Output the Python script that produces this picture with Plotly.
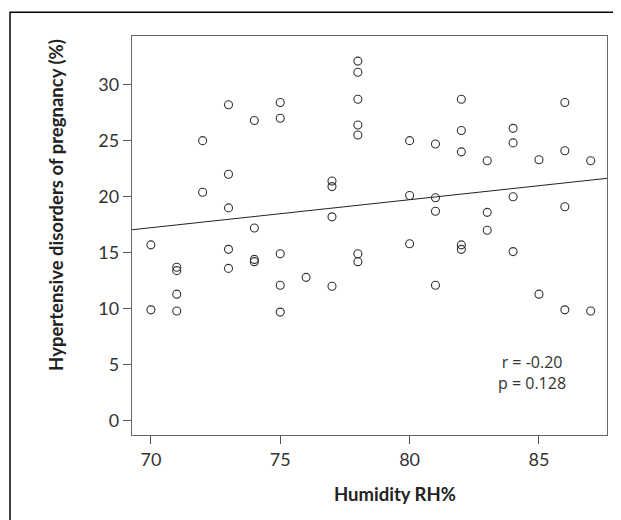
import plotly.graph_objects as go

# humidity (RH%) and hypertensive disorders of pregnancy (%)
humidity = [
    70, 70,
    71, 71, 71, 71,
    72, 72,
    73, 73, 73, 73, 73,
    74, 74, 74, 74,
    75, 75, 75, 75, 75,
    76,
    77, 77, 77, 77,
    78, 78, 78, 78, 78, 78, 78,
    80, 80, 80,
    81, 81, 81, 81,
    82, 82, 82, 82, 82,
    83, 83, 83,
    84, 84, 84, 84,
    85, 85,
    86, 86, 86, 86,
    87, 87,
]
hdp_rate = [
    15.7, 9.9,
    13.7, 13.4, 11.3, 9.8,
    25.0, 20.4,
    28.2, 22.0, 19.0, 15.3, 13.6,
    26.8, 17.2, 14.4, 14.2,
    28.4, 27.0, 14.9, 12.1, 9.7,
    12.8,
    21.4, 20.9, 18.2, 12.0,
    32.1, 31.1, 28.7, 26.4, 25.5, 14.9, 14.2,
    25.0, 20.1, 15.8,
    24.7, 19.9, 18.7, 12.1,
    28.7, 25.9, 24.0, 15.7, 15.3,
    23.2, 18.6, 17.0,
    26.1, 24.8, 20.0, 15.1,
    23.3, 11.3,
    28.4, 24.1, 19.1, 9.9,
    23.2, 9.8,
]

# fitted line as drawn
fit_slope = 0.25
fit_intercept = -0.27

x_range = [69.27, 87.63]
y_range = [-1.27, 34.34]
x_ticks = [70, 75, 80, 85]
y_ticks = [0, 5, 10, 15, 20, 25, 30]
stats_lines = ["r = -0.20", "p = 0.128"]

fit_y = [fit_intercept + fit_slope * x for x in x_range]

fig = go.Figure()
fig.add_trace(
    go.Scatter(
        x=x_range,
        y=fit_y,
        mode="lines",
        line={"color": "#222222", "width": 1},
        showlegend=False,
    )
)
fig.add_trace(
    go.Scatter(
        x=humidity,
        y=hdp_rate,
        mode="markers",
        marker={
            "symbol": "circle-open",
            "size": 8,
            "color": "#333333",
            "line": {"width": 1.1, "color": "#333333"},
        },
        showlegend=False,
    )
)

tick_font = {"family": "Lato, 'Open Sans', sans-serif", "size": 18, "color": "#333333"}

axis_style = dict(
    ticks="outside",
    ticklen=8,
    tickcolor="#555555",
    tickfont=tick_font,
    showline=True,
    linecolor="#666666",
    linewidth=1.3,
    mirror=True,
    showgrid=False,
    zeroline=False,
)
fig.update_xaxes(range=x_range, tickvals=x_ticks, **axis_style)
fig.update_yaxes(range=y_range, tickvals=y_ticks, **axis_style)

title_font = {"family": "Lato, 'Open Sans', sans-serif", "size": 18.5, "color": "#222222"}
stats_font = {"family": "'Open Sans', sans-serif", "size": 16, "color": "#333333"}

fig.update_layout(
    # page body adds an 8px offset, so the figure is 8px smaller than the window
    width=613,
    height=512,
    margin={"l": 124, "r": 14, "t": 28, "b": 85},
    paper_bgcolor="white",
    plot_bgcolor="white",
    annotations=[
        {
            "text": "<b>Humidity RH%</b>",
            "xref": "paper", "yref": "paper",
            "x": 0.5547, "y": -0.149,
            "xanchor": "center", "yanchor": "middle",
            "showarrow": False,
            "font": title_font,
        },
        {
            "text": "<b>Hypertensive disorders of pregnancy (%)</b>",
            "xref": "paper", "yref": "paper",
            "x": -0.1606, "y": 0.576,
            "xanchor": "center", "yanchor": "middle",
            "textangle": -90,
            "showarrow": False,
            "font": title_font,
        },
        {
            "text": "<br>".join(stats_lines),
            "xref": "paper", "yref": "paper",
            "x": 0.8415, "y": 0.156,
            "xanchor": "center", "yanchor": "middle",
            "align": "center",
            "showarrow": False,
            "font": stats_font,
        },
    ],
    shapes=[
        {
            "type": "rect",
            "xref": "paper", "yref": "paper",
            "x0": -0.2568, "y0": -0.4,
            "x1": 1.2, "y1": 1.0593,
            "line": {"color": "black", "width": 1.5},
            "fillcolor": "rgba(0,0,0,0)",
        }
    ],
)

fig.write_html("out.html")
